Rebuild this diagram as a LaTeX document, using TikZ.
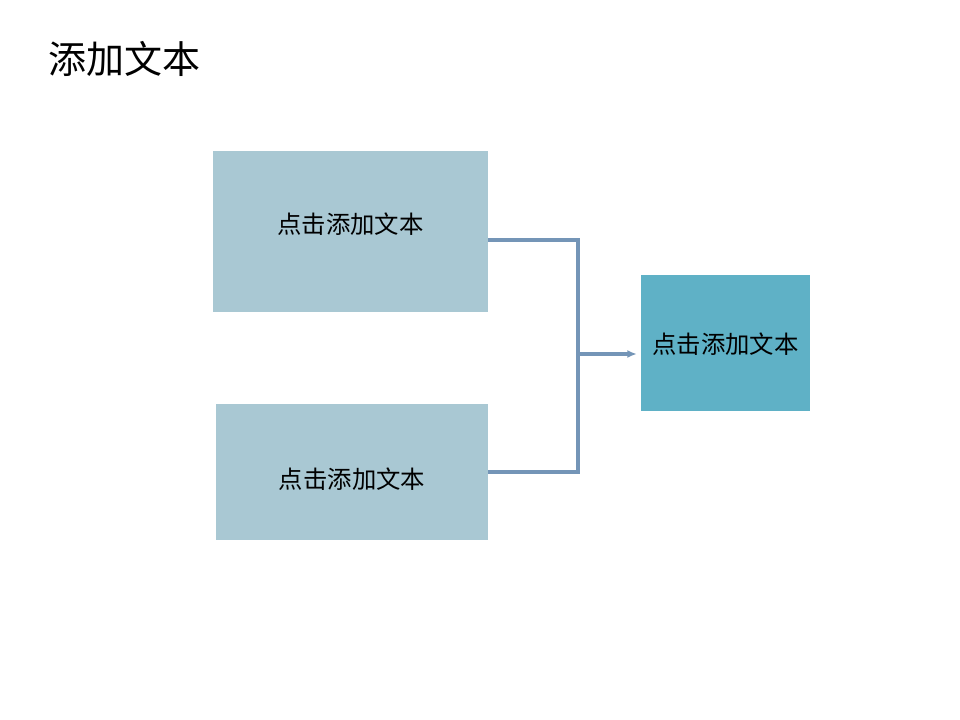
\documentclass[tikz,border=0pt]{standalone}
\usepackage{fontspec}
\setmainfont{Noto Sans CJK SC}
\usepackage{xcolor}
\usetikzlibrary{arrows.meta, positioning}

\definecolor{boxgray}{HTML}{A9C8D3}
\definecolor{boxteal}{HTML}{5FB1C6}
\definecolor{linkblue}{HTML}{7495B7}

% text placed with its baseline shifted from the node centre
\newcommand{\boxtext}[2]{\smash{\raisebox{#1}{#2}}}

\begin{document}
\begin{tikzpicture}[
x=0.75pt, y=-0.75pt,
box/.style={fill=#1, draw=none, font=\fontsize{18.3}{22}\selectfont, text=black, inner sep=0pt},
link/.style={draw=linkblue, line width=2.3pt},
arrow/.style={link, -{Latex[length=7pt, width=6pt]}, shorten >=3pt}
]
\useasboundingbox (0,0) rectangle (960,720);

\node (title) [anchor=west, font=\fontsize{28.5}{32}\selectfont] at (44,59) {添加文本};

\node (top) [box=boxgray, minimum width=206.25pt, minimum height=120.75pt] at (350.5,231.5) {\boxtext{-1.4pt}{点击添加文本}};
\node (bottom) [box=boxgray, minimum width=204pt, minimum height=102pt] at (352,472) {\boxtext{-12.2pt}{点击添加文本}};
\node (result) [box=boxteal, minimum width=126.75pt, minimum height=102pt] at (725.5,343) {\boxtext{-7.7pt}{点击添加文本}};

\coordinate (jtop) at (578,240);
\coordinate (jbot) at (578,472);
\coordinate (jmid) at (578,354);

\draw[link] (top.east |- jtop) -- (jtop) -- (jbot) -- (bottom.east |- jbot);
\draw[arrow] (jmid) -- (result.west |- jmid);

\end{tikzpicture}
\end{document}
